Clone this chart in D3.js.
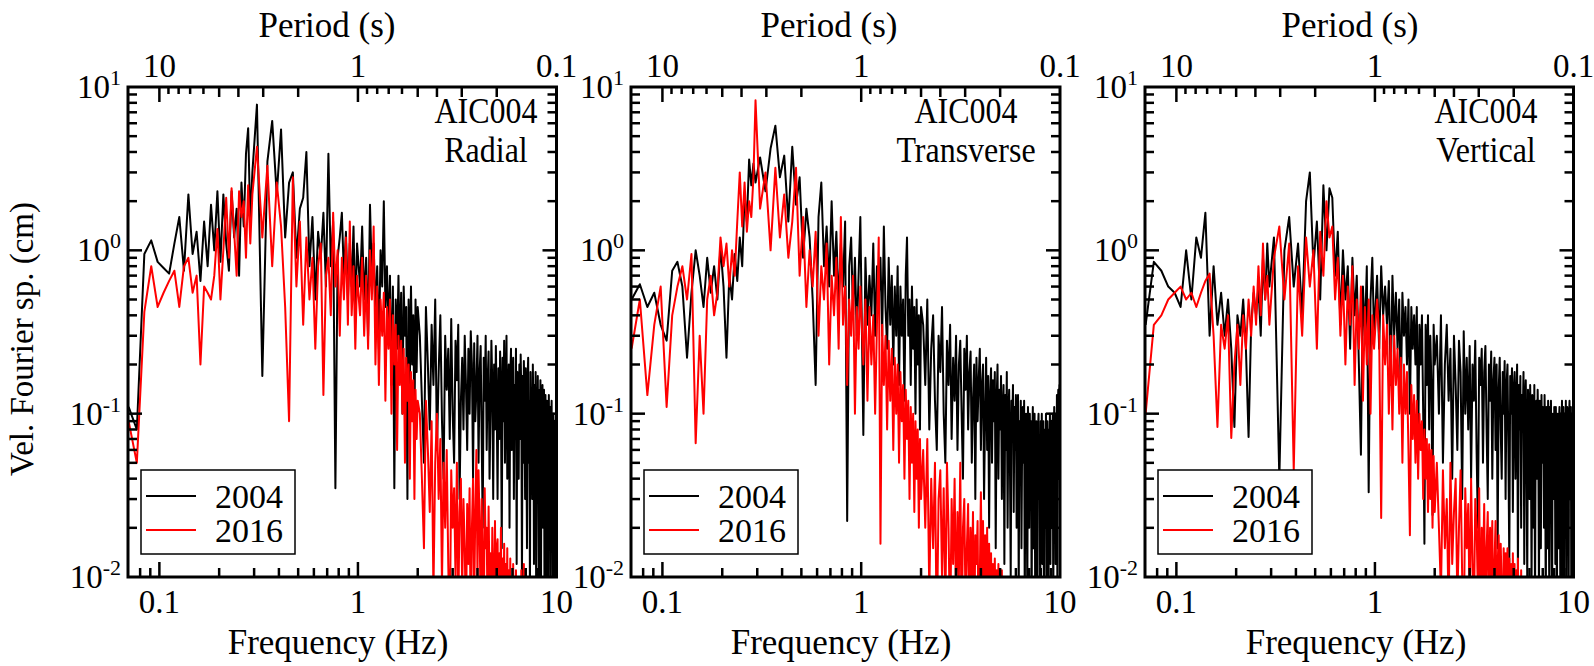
<!DOCTYPE html>
<html><head><meta charset="utf-8">
<script src="https://cdn.jsdelivr.net/npm/d3@7/dist/d3.min.js"></script>
<style>body{margin:0;background:#fff}svg{display:block}</style>
</head><body>
<svg id="c" width="1594" height="666"></svg>
<script>
// ---------------- DATA ----------------
const freq = [
0.070,0.077,0.084,0.091,0.098,0.105,0.112,0.119,0.126,0.133,0.140,0.147,0.154,0.161,0.168,0.175,0.182,0.189,0.196,0.203,0.210,0.217,0.224,0.231,0.238,0.245,0.252,0.259,0.266,0.273,0.280,0.287,0.294,
0.31,0.33,0.35,0.37,0.39,0.41,0.43,0.45,0.47,0.49,0.51,0.53,0.55,0.57,0.59,0.61,0.63,0.65,0.67,0.69,0.71,0.73,0.75,0.77,0.79,0.81,0.83,0.85,0.87,0.89,0.91,0.93,0.95,0.97,0.99,
1.025,1.05,1.075,1.1,1.125,1.15,1.175,1.2,1.225,1.25,1.275,1.3,1.325,1.35,1.375,1.4,1.425,1.45,1.475,1.5,
1.525,1.55,1.575,1.6,1.625,1.65,1.675,1.7,1.725,1.75,1.775,1.8,1.825,1.85,1.875,1.9,1.925,1.95,1.975,2.0,
2.05,2.1,2.15,2.2,2.25,2.3,2.35,2.4,2.45,2.5,2.55,2.6,2.65,2.7,2.75,2.8,2.85,2.9,2.95,3.0,
3.05,3.1,3.15,3.2,3.25,3.3,3.35,3.4,3.45,3.5,3.55,3.6,3.65,3.7,3.75,3.8,3.85,3.9,3.95,4.0,
4.05,4.1,4.15,4.2,4.25,4.3,4.35,4.4,4.45,4.5,4.55,4.6,4.65,4.7,4.75,4.8,4.85,4.9,4.95,5.0,
5.05,5.1,5.15,5.2,5.25,5.3,5.35,5.4,5.45,5.5,5.55,5.6,5.65,5.7,5.75,5.8,5.85,5.9,5.95,6.0,
6.05,6.1,6.15,6.2,6.25,6.3,6.35,6.4,6.45,6.5,6.55,6.6,6.65,6.7,6.75,6.8,6.85,6.9,6.95,7.0,
7.05,7.1,7.15,7.2,7.25,7.3,7.35,7.4,7.45,7.5,7.55,7.6,7.65,7.7,7.75,7.8,7.85,7.9,7.95,8.0,
8.05,8.1,8.15,8.2,8.25,8.3,8.35,8.4,8.45,8.5,8.55,8.6,8.65,8.7,8.75,8.8,8.85,8.9,8.95,9.0,
9.05,9.1,9.15,9.2,9.25,9.3,9.35,9.4,9.45,9.5,9.55,9.6,9.65,9.7,9.75,9.8,9.85,9.9,9.95,10.0
];

const radial2004 = [
0.11,0.08,0.95,1.15,0.85,0.78,0.72,1.1,1.6,0.75,2.2,0.95,1.3,0.65,1.5,0.8,1.9,1.0,2.3,0.85,2.2,1.1,0.75,2.3,1.2,1.8,0.7,2.6,1.4,3.9,5.6,1.5,3.0,
7.8,0.17,3.5,6.2,2.2,5.5,1.2,2.6,3.0,0.9,1.8,2.1,4.0,0.8,1.6,0.5,1.3,0.9,1.7,0.6,3.9,0.8,1.5,0.035,0.9,1.2,1.7,0.7,1.3,0.5,1.1,0.6,1.4,0.4,1.1,
0.6,1.4,0.5,0.9,0.3,1.9,0.7,1.1,0.4,0.8,0.25,1.0,0.6,2.0,0.45,0.8,0.3,0.7,0.15,0.6,
0.035,0.5,0.25,0.7,0.2,0.55,0.1,0.6,0.3,0.45,0.03,0.5,0.15,0.6,0.2,0.4,0.08,0.5,0.18,0.45,
0.3,0.12,0.05,0.45,0.2,0.08,0.35,0.15,0.5,0.06,0.18,0.4,0.09,0.04,0.3,0.14,0.25,0.07,0.38,0.1,
0.05,0.28,0.16,0.35,0.03,0.12,0.22,0.08,0.3,0.15,0.06,0.25,0.1,0.32,0.2,0.04,0.27,0.09,0.14,0.3,
0.05,0.18,0.26,0.07,0.02,0.22,0.12,0.3,0.06,0.16,0.24,0.04,0.1,0.28,0.15,0.03,0.2,0.08,0.26,0.11,
0.03,0.19,0.07,0.24,0.13,0.015,0.22,0.09,0.28,0.05,0.14,0.3,0.04,0.1,0.2,0.02,0.17,0.25,0.06,0.12,
0.22,0.03,0.15,0.08,0.25,0.012,0.18,0.1,0.04,0.2,0.07,0.23,0.13,0.009,0.17,0.05,0.21,0.11,0.03,0.19,
0.08,0.015,0.16,0.22,0.05,0.12,0.007,0.18,0.09,0.14,0.03,0.2,0.1,0.012,0.15,0.06,0.18,0.006,0.13,0.08,
0.17,0.04,0.01,0.14,0.09,0.16,0.005,0.12,0.06,0.15,0.02,0.11,0.14,0.006,0.08,0.13,0.03,0.004,0.12,0.07,
0.1,0.006,0.13,0.05,0.015,0.11,0.004,0.09,0.12,0.02,0.08,0.01,0.1,0.05,0.004,0.09,0.03,0.003,0.07,0.1
];
const radial2016 = [
0.09,0.05,0.42,0.8,0.45,0.55,0.65,0.75,0.45,0.8,0.9,0.55,0.7,0.2,0.6,0.55,0.5,0.7,1.35,0.5,1.0,2.1,0.9,2.4,1.3,0.7,2.3,1.6,2.0,0.9,2.5,1.1,2.2,
4.3,1.2,3.3,0.8,2.6,1.4,0.45,0.09,2.8,0.6,1.5,0.35,1.2,0.5,0.9,0.25,0.8,1.1,0.13,0.7,0.9,0.4,1.7,0.6,1.0,0.3,0.9,0.5,1.2,0.35,1.5,0.4,0.8,0.25,0.7,
0.4,0.9,0.3,0.7,0.25,1.0,0.5,1.4,0.2,0.6,0.15,0.5,0.3,0.55,0.12,0.45,0.25,0.5,0.1,0.4,
0.2,0.35,0.06,0.3,0.15,0.28,0.1,0.25,0.05,0.22,0.12,0.2,0.04,0.18,0.09,0.16,0.03,0.14,0.07,0.12,
0.1,0.04,0.015,0.12,0.06,0.025,0.09,0.008,0.05,0.1,0.03,0.07,0.009,0.05,0.02,0.06,0.012,0.004,0.045,0.02,
0.035,0.01,0.05,0.006,0.025,0.04,0.008,0.03,0.015,0.005,0.028,0.012,0.035,0.004,0.02,0.04,0.007,0.025,0.06,0.01,
0.045,0.02,0.006,0.03,0.012,0.004,0.035,0.015,0.02,0.005,0.027,0.008,0.014,0.004,0.02,0.01,0.003,0.022,0.006,0.015,
0.017,0.004,0.014,0.006,0.02,0.003,0.013,0.005,0.016,0.003,0.012,0.004,0.015,0.003,0.011,0.004,0.013,0.003,0.01,0.003,
0.012,0.003,0.009,0.004,0.011,0.003,0.008,0.003,0.01,0.002,0.009,0.003,0.011,0.002,0.008,0.003,0.012,0.002,0.007,0.003,
0.008,0.002,0.01,0.003,0.007,0.002,0.009,0.002,0.006,0.002,0.007,0.002,0.006,0.002,0.008,0.002,0.005,0.002,0.006,0.002,
0.005,0.002,0.006,0.002,0.004,0.002,0.005,0.002,0.004,0.002,0.004,0.002,0.005,0.002,0.004,0.002,0.003,0.002,0.004,0.002,
0.003,0.002,0.004,0.002,0.003,0.002,0.003,0.002,0.003,0.002,0.003,0.002,0.003,0.002,0.003,0.002,0.003,0.002,0.003,0.002
];
const transverse2004 = [
0.5,0.62,0.45,0.55,0.35,0.28,0.75,0.85,0.6,0.22,0.55,1.0,0.7,0.45,0.9,0.55,0.8,0.5,1.05,0.6,0.22,0.7,0.5,0.95,0.65,1.2,0.8,2.2,1.5,3.6,2.5,3.4,2.6,
3.7,2.3,4.2,5.8,2.8,3.8,1.5,4.3,1.9,2.8,0.9,1.8,1.2,0.5,0.15,1.6,2.6,0.8,1.4,0.6,2.0,0.7,1.3,0.45,1.1,0.6,1.5,0.022,0.8,1.2,0.4,0.9,0.3,0.7,1.6,
0.074,0.9,0.35,0.7,0.4,1.1,0.3,0.8,0.5,0.9,0.3,1.4,0.45,0.25,0.9,0.35,0.7,0.2,0.6,0.3,
0.8,0.15,0.6,0.3,0.5,0.12,0.7,1.2,0.3,0.5,0.15,0.6,0.25,0.45,0.1,0.5,0.2,0.4,0.08,0.45,
0.35,0.15,0.5,0.08,0.25,0.4,0.12,0.06,0.3,0.18,0.45,0.1,0.05,0.28,0.15,0.35,0.07,0.22,0.12,0.3,
0.06,0.2,0.28,0.1,0.04,0.25,0.14,0.3,0.08,0.18,0.24,0.05,0.12,0.2,0.03,0.22,0.09,0.16,0.25,0.06,
0.15,0.2,0.03,0.1,0.22,0.06,0.17,0.02,0.13,0.19,0.05,0.16,0.09,0.18,0.015,0.12,0.2,0.04,0.14,0.08,
0.17,0.03,0.11,0.15,0.012,0.13,0.06,0.18,0.02,0.1,0.14,0.05,0.01,0.12,0.08,0.15,0.025,0.11,0.06,0.13,
0.02,0.1,0.13,0.008,0.09,0.04,0.12,0.015,0.07,0.11,0.05,0.12,0.006,0.09,0.1,0.03,0.008,0.11,0.06,0.02,
0.1,0.04,0.09,0.006,0.07,0.11,0.015,0.05,0.1,0.008,0.06,0.09,0.02,0.005,0.08,0.1,0.03,0.07,0.006,0.09,
0.04,0.1,0.012,0.07,0.09,0.005,0.06,0.08,0.02,0.1,0.006,0.07,0.09,0.03,0.004,0.08,0.05,0.1,0.012,0.06,
0.09,0.02,0.07,0.1,0.005,0.06,0.11,0.03,0.08,0.012,0.1,0.05,0.13,0.008,0.09,0.14,0.04,0.11,0.15,0.02
];
const transverse2016 = [
0.25,0.5,0.13,0.35,0.6,0.11,0.4,0.6,0.8,0.5,0.95,0.066,0.3,0.1,0.5,0.7,0.4,0.55,1.2,0.8,1.1,0.6,1.0,0.7,1.5,3.0,1.4,2.6,1.3,2.0,1.6,2.8,8.3,
1.8,3.0,1.0,3.2,1.2,2.2,0.9,1.5,3.2,0.7,1.6,0.45,1.0,0.6,1.3,0.3,0.8,0.5,1.1,0.2,0.7,0.4,0.9,0.25,1.6,0.35,0.6,0.15,0.5,0.3,0.7,0.1,0.45,0.25,0.6,
0.2,0.5,0.12,0.45,0.2,0.4,0.1,0.35,1.2,0.016,0.35,0.15,0.3,0.08,0.28,0.12,0.25,0.06,0.22,0.1,
0.2,0.05,0.18,0.09,0.15,0.04,0.14,0.07,0.12,0.03,0.11,0.05,0.1,0.025,0.09,0.04,0.08,0.02,0.07,0.03,
0.06,0.02,0.07,0.008,0.04,0.015,0.05,0.004,0.03,0.045,0.01,0.035,0.006,0.05,0.02,0.004,0.03,0.012,0.04,0.006,
0.025,0.01,0.05,0.004,0.02,0.03,0.006,0.015,0.028,0.004,0.02,0.008,0.025,0.004,0.018,0.012,0.022,0.003,0.01,0.033,
0.008,0.022,0.005,0.018,0.006,0.02,0.004,0.016,0.005,0.014,0.004,0.012,0.005,0.013,0.004,0.011,0.003,0.012,0.004,0.01,
0.003,0.011,0.003,0.009,0.003,0.008,0.003,0.007,0.002,0.006,0.002,0.006,0.002,0.005,0.002,0.005,0.002,0.004,0.002,0.004,
0.002,0.003,0.002,0.003,0.002,0.003,0.002,0.003,0.002,0.003,0.002,0.003,0.002,0.003,0.002,0.003,0.002,0.003,0.002,0.003,
0.002,0.003,0.002,0.003,0.002,0.003,0.002,0.003,0.002,0.003,0.002,0.003,0.002,0.003,0.002,0.003,0.002,0.003,0.002,0.003,
0.002,0.003,0.002,0.003,0.002,0.003,0.002,0.003,0.002,0.003,0.002,0.003,0.002,0.003,0.002,0.003,0.002,0.003,0.002,0.003,
0.002,0.003,0.002,0.003,0.002,0.003,0.002,0.003,0.002,0.003,0.002,0.003,0.002,0.003,0.002,0.003,0.002,0.003,0.002,0.003
];
const vertical2004 = [
0.35,0.85,0.75,0.6,0.55,0.45,1.0,0.5,1.2,0.9,1.7,0.3,0.8,0.35,0.55,0.3,0.5,0.25,0.083,0.4,0.3,0.5,0.25,0.072,0.35,0.55,0.4,0.6,0.3,0.9,0.5,1.1,0.6,
1.2,0.04,1.0,1.6,0.6,1.1,0.4,2.0,3.0,0.8,1.5,0.5,2.5,1.0,2.4,2.1,0.7,1.3,0.35,1.0,0.5,0.8,0.25,0.9,0.4,0.7,0.2,0.056,0.6,0.3,0.8,0.033,0.5,0.9,0.3,
0.7,0.25,0.8,0.4,0.6,0.35,0.65,0.15,0.7,0.3,0.55,0.25,0.5,0.12,0.55,0.3,0.45,0.2,0.5,0.1,
0.45,0.25,0.4,0.2,0.45,0.06,0.35,0.2,0.4,0.1,0.016,0.35,0.15,0.4,0.08,0.3,0.15,0.024,0.35,0.2,
0.3,0.1,0.4,0.05,0.2,0.35,0.12,0.25,0.04,0.3,0.15,0.06,0.28,0.18,0.03,0.32,0.1,0.22,0.08,0.26,
0.04,0.2,0.12,0.28,0.06,0.02,0.22,0.15,0.25,0.05,0.18,0.26,0.08,0.03,0.2,0.12,0.24,0.04,0.16,0.22,
0.06,0.2,0.015,0.14,0.22,0.08,0.04,0.18,0.1,0.21,0.03,0.15,0.2,0.06,0.012,0.17,0.1,0.19,0.025,0.14,
0.18,0.04,0.12,0.2,0.01,0.15,0.08,0.17,0.02,0.13,0.09,0.18,0.012,0.12,0.16,0.05,0.009,0.14,0.1,0.03,
0.15,0.07,0.009,0.13,0.11,0.02,0.15,0.006,0.1,0.12,0.04,0.14,0.08,0.007,0.12,0.1,0.015,0.13,0.05,0.11,
0.1,0.02,0.13,0.06,0.005,0.11,0.09,0.015,0.12,0.04,0.008,0.11,0.07,0.12,0.02,0.005,0.1,0.08,0.03,0.11,
0.09,0.012,0.11,0.05,0.005,0.1,0.08,0.015,0.09,0.11,0.03,0.004,0.1,0.07,0.12,0.01,0.08,0.11,0.006,0.09,
0.1,0.05,0.12,0.006,0.08,0.11,0.02,0.09,0.005,0.1,0.12,0.03,0.09,0.11,0.005,0.08,0.1,0.04,0.12,0.01
];
const vertical2016 = [
0.1,0.35,0.4,0.5,0.55,0.6,0.5,0.55,0.45,0.55,0.65,0.72,0.3,0.083,0.35,0.25,0.4,0.071,0.2,0.35,0.15,0.4,0.25,0.5,0.3,0.6,0.35,0.8,0.4,1.1,0.5,0.7,0.35,
0.9,1.4,0.5,1.1,0.045,0.8,0.3,1.2,0.6,1.0,0.25,1.3,0.7,2.0,1.2,1.4,0.5,0.9,0.3,0.7,0.2,0.6,0.35,0.8,0.15,0.5,0.25,0.6,0.12,0.45,0.2,0.5,0.1,0.4,0.25,
0.5,0.3,0.023,0.4,0.2,0.35,0.1,0.3,0.08,0.3,0.15,0.25,0.1,0.22,0.05,0.2,0.1,0.18,0.06,0.018,
0.15,0.07,0.13,0.05,0.12,0.04,0.1,0.06,0.09,0.03,0.08,0.04,0.07,0.025,0.065,0.03,0.06,0.02,0.055,0.025,
0.05,0.02,0.008,0.045,0.015,0.03,0.006,0.05,0.012,0.025,0.04,0.007,0.02,0.045,0.01,0.004,0.035,0.015,0.028,0.006,
0.04,0.012,0.005,0.03,0.02,0.008,0.035,0.004,0.02,0.01,0.028,0.005,0.015,0.025,0.004,0.02,0.01,0.022,0.003,0.012,
0.022,0.006,0.012,0.018,0.003,0.016,0.008,0.004,0.015,0.006,0.014,0.005,0.015,0.004,0.013,0.004,0.012,0.003,0.014,0.004,
0.012,0.003,0.011,0.004,0.013,0.003,0.01,0.003,0.011,0.003,0.009,0.003,0.01,0.003,0.008,0.003,0.009,0.002,0.007,0.003,
0.003,0.002,0.003,0.002,0.003,0.002,0.003,0.002,0.003,0.002,0.003,0.002,0.003,0.002,0.003,0.002,0.003,0.002,0.003,0.002,
0.003,0.002,0.003,0.002,0.003,0.002,0.003,0.002,0.003,0.002,0.003,0.002,0.003,0.002,0.003,0.002,0.003,0.002,0.003,0.002,
0.003,0.002,0.003,0.002,0.003,0.002,0.003,0.002,0.003,0.002,0.003,0.002,0.003,0.002,0.003,0.002,0.003,0.002,0.003,0.002,
0.003,0.002,0.003,0.002,0.003,0.002,0.003,0.002,0.003,0.002,0.003,0.002,0.003,0.002,0.003,0.002,0.003,0.002,0.003,0.002
];

const components = ["Radial", "Transverse", "Vertical"];
const station = "AIC004";
const years = ["2004", "2016"];
const freqTicks = [0.1, 1, 10];
const freqTickLabels = ["0.1", "1", "10"];
const periodTicks = [10, 1, 0.1];
const periodTickLabels = ["10", "1", "0.1"];
const ampTicks = [10, 1, 0.1, 0.01];
const ampTickExp = ["1", "0", "-1", "-2"];
const series = [[radial2004, radial2016], [transverse2004, transverse2016], [vertical2004, vertical2016]];
const colors = ["#000000", "#ff0000"];
series.forEach(s => s.forEach(a => { if (a.length !== freq.length) console.error("length", a.length, freq.length); }));

// ---------------- LAYOUT ----------------
const FMIN = 0.0695, FMAX = 10, AMIN = 0.01, AMAX = 10;
const yTop = 87, yBot = 577;
const layout = [
  {x0: 128, x1: 556.5, periodCx: 327, freqCx: 338, labCx: 486},
  {x0: 631, x1: 1060, periodCx: 829, freqCx: 841, labCx: 966},
  {x0: 1145, x1: 1573.5, periodCx: 1350, freqCx: 1356, labCx: 1486}
];
const FONT = "'Liberation Serif','Times New Roman',Times,serif";

const svg = d3.select("#c");
svg.append("rect").attr("width", 1594).attr("height", 666).attr("fill", "#fff");
const defs = svg.append("defs");

function txt(g, x, y, s, size, anchor, sy) {
  return g.append("text").attr("transform", `translate(${x},${y}) scale(1,${sy || 1})`)
    .attr("font-family", FONT).attr("font-size", size).attr("text-anchor", anchor || "middle")
    .attr("fill", "#000").text(s);
}
const isMajor = v => Math.abs(Math.log10(v) - Math.round(Math.log10(v))) < 1e-6;
const mant = v => Math.round(v / Math.pow(10, Math.floor(Math.log10(v) + 1e-9)));

layout.forEach((L, i) => {
  const g = svg.append("g");
  const x = d3.scaleLog().domain([FMIN, FMAX]).range([L.x0, L.x1]);
  const p = d3.scaleLog().domain([1 / FMIN, 1 / FMAX]).range([L.x0, L.x1]);
  const y = d3.scaleLog().domain([AMIN, AMAX]).range([yBot, yTop]);

  defs.append("clipPath").attr("id", "clip" + i).append("rect")
    .attr("x", L.x0).attr("y", yTop).attr("width", L.x1 - L.x0).attr("height", yBot - yTop);

  const line = d3.line().x(d => x(d[0])).y(d => y(d[1]));
  const dg = g.append("g").attr("clip-path", "url(#clip" + i + ")");
  series[i].forEach((s, k) => {
    dg.append("path").datum(freq.map((f, j) => [f, s[j]]))
      .attr("d", line).attr("fill", "none").attr("stroke", colors[k])
      .attr("stroke-width", 2).attr("stroke-linejoin", "round");
  });

  // ticks
  const tk = g.append("g").attr("stroke", "#000").attr("stroke-width", 2.5);
  x.ticks().filter(v => v > FMIN * 1.02 && v < FMAX * 0.999).forEach(v => {
    const len = isMajor(v) ? 15 : 9;
    tk.append("line").attr("x1", x(v)).attr("x2", x(v)).attr("y1", yBot).attr("y2", yBot - len);
  });
  p.ticks().filter(v => v < 1 / FMIN && v > 1 / FMAX * 1.001).forEach(v => {
    const len = isMajor(v) ? 15 : (mant(v) >= 6 ? 7 : 10);
    tk.append("line").attr("x1", p(v)).attr("x2", p(v)).attr("y1", yTop).attr("y2", yTop + len);
  });
  y.ticks().filter(v => v > AMIN * 1.001 && v < AMAX * 0.999).forEach(v => {
    const len = isMajor(v) ? 14 : 9;
    tk.append("line").attr("x1", L.x0).attr("x2", L.x0 + len).attr("y1", y(v)).attr("y2", y(v));
    tk.append("line").attr("x1", L.x1).attr("x2", L.x1 - len).attr("y1", y(v)).attr("y2", y(v));
  });

  // frame
  g.append("rect").attr("x", L.x0).attr("y", yTop).attr("width", L.x1 - L.x0).attr("height", yBot - yTop)
    .attr("fill", "none").attr("stroke", "#000").attr("stroke-width", 3);

  // tick labels
  freqTicks.forEach((v, k) => txt(g, x(v), 613, freqTickLabels[k], 33));
  periodTicks.forEach((v, k) => txt(g, p(v), 77, periodTickLabels[k], 33));
  ampTicks.forEach((v, k) => {
    const t = txt(g, L.x0 - 7, y(v) + 11, "10", 33, "end");
    t.append("tspan").attr("dy", -13).attr("font-size", 22).text(ampTickExp[k]);
  });

  // titles
  txt(g, L.periodCx, 37, "Period (s)", 35);
  txt(g, L.freqCx, 654, "Frequency (Hz)", 35);
  txt(g, L.labCx, 123, station, 32, "middle", 1.15);
  txt(g, L.labCx, 162, components[i], 32, "middle", 1.15);

  // legend
  const lg = g.append("g");
  lg.append("rect").attr("x", L.x0 + 13).attr("y", 470).attr("width", 154).attr("height", 84)
    .attr("fill", "#fff").attr("stroke", "#000").attr("stroke-width", 1.5);
  years.forEach((yr, k) => {
    const ly = 496 + k * 34;
    lg.append("line").attr("x1", L.x0 + 18).attr("x2", L.x0 + 68).attr("y1", ly).attr("y2", ly)
      .attr("stroke", colors[k]).attr("stroke-width", 2);
    txt(lg, L.x0 + 87, ly + 12, yr, 34, "start");
  });
});

svg.append("text").attr("transform", "translate(33,339) rotate(-90)")
  .attr("font-family", FONT).attr("font-size", 33).attr("text-anchor", "middle").text("Vel. Fourier sp. (cm)");
</script>
</body></html>
